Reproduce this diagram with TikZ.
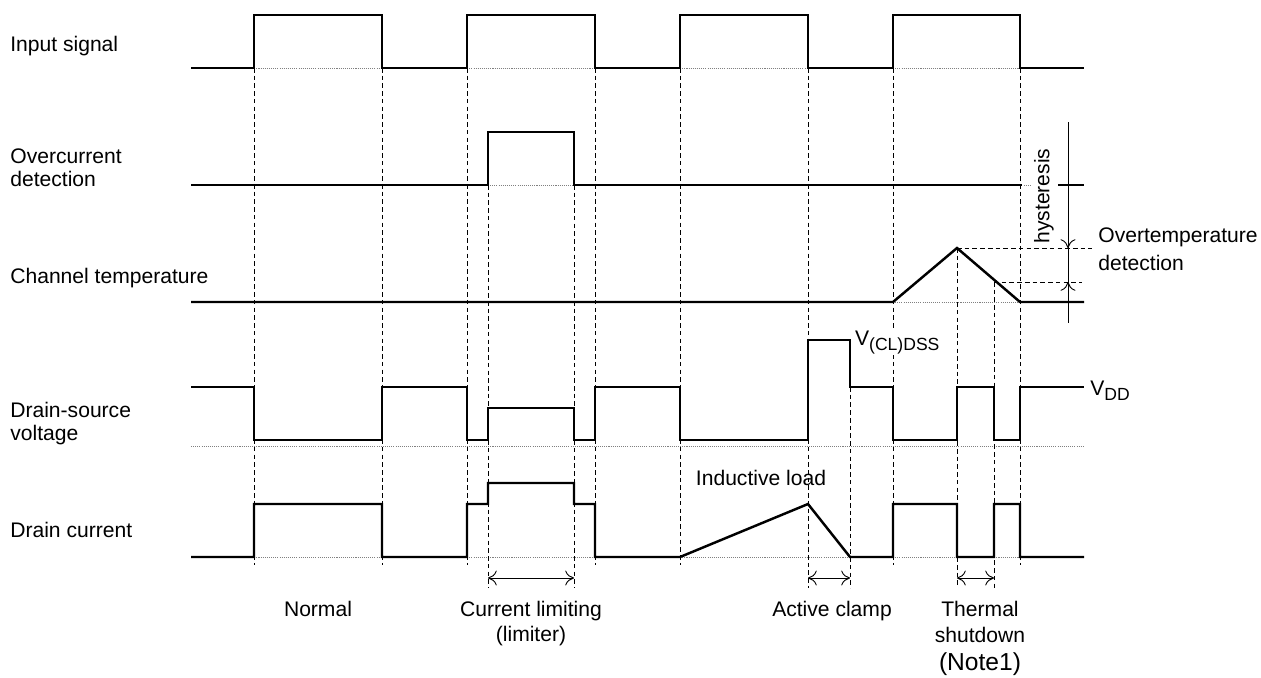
\documentclass[tikz,border=0pt]{standalone}
\usepackage{fontspec}
\setmainfont{Liberation Sans}
\usetikzlibrary{calc,arrows,arrows.meta}

\newcommand{\lowidx}[1]{\raisebox{-0.45ex}{\fontsize{10}{12}\selectfont #1}}

\tikzset{
  wave/.style={line width=1.4pt, line join=miter},
  guide/.style={line width=0.55pt, dash pattern=on 2.6pt off 1.8pt},
  zero/.style={line width=0.4pt, gray, dash pattern=on 0.6pt off 0.6pt},
  dim/.style={line width=0.55pt, >={To[length=5pt,width=8.5pt]}},
  lbl/.style={anchor=base west, inner sep=0pt, font=\fontsize{12}{14}\selectfont},
  modetext/.style={anchor=base, inner sep=0pt, font=\fontsize{12}{14}\selectfont},
}

\begin{document}
\begin{tikzpicture}[x=0.02cm,y=-0.02cm]
    \useasboundingbox (0,0) rectangle (1261,677);

    % zero lines
    \foreach \y in {68,446,557}
    \draw[zero] (191,\y) -- (1084,\y);
    \draw[zero] (488,185) -- (1030,185);
    \draw[zero] (893,302) -- (1020,302);

    % timing guides
    \foreach \x in {254,382,467,595,680,893,1020}
    \draw[guide] (\x,68) -- (\x,565);
    \draw[guide] (808,68) -- (808,588);
    \foreach \x in {488,574}
    \draw[guide] (\x,185) -- (\x,588);
    \draw[guide] (850,387) -- (850,588);
    \draw[guide] (957,248) -- (957,588);
    \draw[guide] (994,282) -- (994,588);
    \draw[guide] (957,248) -- (1092,248);
    \draw[guide] (994,282) -- (1082,282);

    % input signal
    \draw[wave] (191,68) -- (254,68) -- (254,15) -- (382,15) -- (382,68)
        -- (467,68) -- (467,15) -- (595,15) -- (595,68) -- (680,68) -- (680,15)
        -- (808,15) -- (808,68) -- (893,68) -- (893,15) -- (1020,15) -- (1020,68)
        -- (1084,68);
    % overcurrent detection
    \draw[wave] (191,185) -- (488,185) -- (488,132) -- (574,132) -- (574,185)
        -- (1022,185);
    \draw[wave] (1058,185) -- (1084,185);
    % channel temperature
    \draw[wave] (191,302) -- (893,302) -- (957,248) -- (1020,302) -- (1084,302);
    % drain-source voltage
    \draw[wave] (191,387) -- (254,387) -- (254,440) -- (382,440) -- (382,387)
        -- (467,387) -- (467,440) -- (488,440) -- (488,408) -- (574,408)
        -- (574,440) -- (595,440) -- (595,387) -- (680,387) -- (680,440)
        -- (808,440) -- (808,340) -- (850,340) -- (850,387) -- (893,387)
        -- (893,440) -- (957,440) -- (957,387) -- (994,387) -- (994,440)
        -- (1020,440) -- (1020,387) -- (1084,387);
    % drain current
    \draw[wave] (191,557) -- (254,557) -- (254,504) -- (382,504) -- (382,557)
        -- (467,557) -- (467,504) -- (488,504) -- (488,483) -- (574,483)
        -- (574,504) -- (595,504) -- (595,557) -- (680,557) -- (808,504)
        -- (850,557) -- (893,557) -- (893,504) -- (957,504) -- (957,557)
        -- (994,557) -- (994,504) -- (1020,504) -- (1020,557) -- (1084,557);

    % hysteresis
    \draw[dim] (1068,122) -- (1068,323);
    \draw[dim,->] (1068,185) -- (1068,248);
    \draw[dim,->] (1068,302) -- (1068,282);
    \node[rotate=90, inner sep=0pt, font=\fontsize{12}{14}\selectfont] (hyst) at (1044,196) {hysteresis};

    % time spans
    \draw[dim,<->] (488,578) -- (574,578);
    \draw[dim,<->] (808,578) -- (850,578);
    \draw[dim,<->] (957,578) -- (994,578);

    % signal names
    \node[lbl] (in) at (10,51) {Input signal};
    \node[lbl] (oc1) at (10,163) {Overcurrent};
    \node[lbl] (oc2) at (10,186) {detection};
    \node[lbl] (tch) at (10,283) {Channel temperature};
    \node[lbl] (vds1) at (10,417) {Drain-source};
    \node[lbl] (vds2) at (10,440) {voltage};
    \node[lbl] (id) at (10,537) {Drain current};

    % levels
    \node[lbl, fill=white, inner sep=1pt] (vcl) at (853,345) {V\lowidx{(CL)DSS}};
    \node[lbl] (vdd) at (1090,395) {V\lowidx{DD}};
    \node[lbl] (ot1) at (1098,242) {Overtemperature};
    \node[lbl] (ot2) at (1098,270) {detection};
    \node[modetext] (ind) at (761,485) {Inductive load};

    % operating modes
    \node[modetext] (norm) at (318,616) {Normal};
    \node[modetext] (lim1) at (531,616) {Current limiting};
    \node[modetext] (lim2) at (531,641) {(limiter)};
    \node[modetext] (clamp) at (832,616) {Active clamp};
    \node[modetext] (tsd1) at (980,616) {Thermal};
    \node[modetext] (tsd2) at (980,642) {shutdown};
    \node[modetext, font=\fontsize{14}{16}\selectfont] (tsd3) at (980,670) {(Note1)};
\end{tikzpicture}
\end{document}
